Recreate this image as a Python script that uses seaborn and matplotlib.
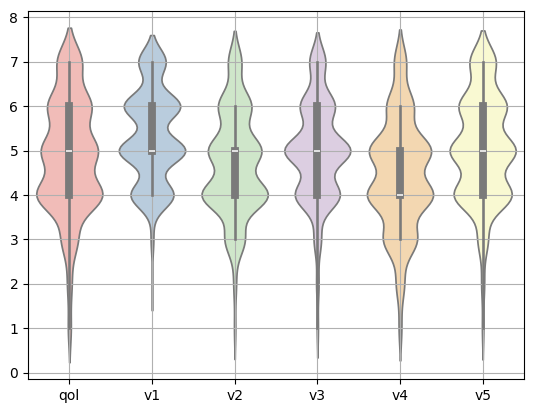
import numpy as np
import pandas as pd
import seaborn as sns
import matplotlib
matplotlib.use("Agg")
import matplotlib.pyplot as plt

# answer scale 1..7 and how many people picked each answer, per variable
scale = [1, 2, 3, 4, 5, 6, 7]
names = ['qol', 'v1', 'v2', 'v3', 'v4', 'v5']
qol_counts = [6, 9, 33, 135, 114, 89, 51]
v1_counts  = [0, 1, 6, 99, 153, 130, 63]
v2_counts  = [3, 6, 45, 150, 120, 75, 30]
v3_counts  = [3, 6, 18, 112, 165, 87, 40]
v4_counts  = [6, 18, 75, 147, 138, 60, 27]
v5_counts  = [3, 6, 21, 120, 136, 99, 54]

all_counts = [qol_counts, v1_counts, v2_counts, v3_counts, v4_counts, v5_counts]

# long form table: one row per answer
rows = []
for name, counts in zip(names, all_counts):
    for value in np.repeat(scale, counts):
        rows.append((name, value))
df = pd.DataFrame(rows, columns=['variable', 'value'])

fig = plt.figure(figsize=(5.34, 4.13), dpi=100)
ax = fig.add_axes([28 / 534, 34 / 413, 496 / 534, 368 / 413])

sns.violinplot(data=df, x='variable', y='value', hue='variable',
               palette='Pastel1', density_norm='width', legend=False, ax=ax)

ax.set_xlabel('')
ax.set_ylabel('')
ax.grid(True)

plt.savefig('out.png', dpi=100)
